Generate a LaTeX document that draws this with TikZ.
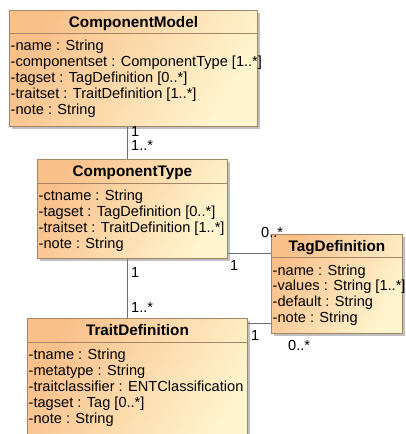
\documentclass[tikz,border=0pt]{standalone}
\usepackage{fontspec}
\setmainfont{Liberation Sans}
\usetikzlibrary{calc,shadows}
\definecolor{cborder}{RGB}{166,132,102}
\definecolor{ctop}{RGB}{249,192,138}
\definecolor{cbot}{RGB}{255,246,208}
\definecolor{cline}{RGB}{110,110,110}
\definecolor{cshadow}{RGB}{192,192,192}
\begin{document}
\begin{tikzpicture}[x=1pt,y=-1pt,
  classbox/.style={draw=cborder, line width=0.9pt, top color=ctop, bottom color=cbot, shading angle=60,
    anchor=north west, inner sep=0pt,
    drop shadow={shadow xshift=3pt, shadow yshift=-3pt, fill=cshadow, opacity=1}},
  title/.style={font=\fontsize{15.3}{17}\selectfont\bfseries, inner sep=0pt, anchor=base},
  attr/.style={font=\fontsize{14.6}{16}\selectfont, inner sep=0pt, anchor=base west},
  lbl/.style={font=\fontsize{14.6}{16}\selectfont, inner sep=0pt, anchor=base west},
  conn/.style={draw=cline, line width=0.9pt},
  sepline/.style={draw=cborder, line width=0.9pt}]
\useasboundingbox (0,0) rectangle (406,434);
\fill[white] (0,0) rectangle (406,434);
\clip (0,0) rectangle (406,434);
\coordinate (xa) at (127,0);

% ComponentModel
\node[classbox, minimum width=248pt, minimum height=116pt] (cm) at (9,10) {};
\node[title] (cmT) at ($(cm.north)+(0,17)$) {ComponentModel};
\draw[sepline] ($(cm.north west)+(0,23)$) -- ($(cm.north east)+(0,23)$);
\foreach \t [count=\i from 0] in {{-name : String},{-componentset : ComponentType [1..*]},{-tagset : TagDefinition [0..*]},{-traitset : TraitDefinition [1..*]},{-note : String}}
  \node[attr] (cma\i) at ($(cm.north west)+(1.5,23+17+16*\i)$) {\t};

% ComponentType
\node[classbox, minimum width=190pt, minimum height=99pt] (ct) at (37,159) {};
\node[title] (ctT) at ($(ct.north)+(0,17)$) {ComponentType};
\draw[sepline] ($(ct.north west)+(0,24)$) -- ($(ct.north east)+(0,24)$);
\foreach \t [count=\i from 0] in {{-ctname : String},{-tagset : TagDefinition [0..*]},{-traitset : TraitDefinition [1..*]},{-note : String}}
  \node[attr] (cta\i) at ($(ct.north west)+(1.5,24+17+16*\i)$) {\t};

% TagDefinition
\node[classbox, minimum width=131pt, minimum height=99pt] (tg) at (271,234) {};
\node[title] (tgT) at ($(tg.north)+(0,17)$) {TagDefinition};
\draw[sepline] ($(tg.north west)+(0,23)$) -- ($(tg.north east)+(0,23)$);
\foreach \t [count=\i from 0] in {{-name : String},{-values : String [1..*]},{-default : String},{-note : String}}
  \node[attr] (tga\i) at ($(tg.north west)+(1.5,23+18+15.7*\i)$) {\t};

% TraitDefinition
\node[classbox, minimum width=220pt, minimum height=140pt] (td) at (27,318) {};
\node[title] (tdT) at ($(td.north)+(0,17)$) {TraitDefinition};
\draw[sepline] ($(td.north west)+(0,24)$) -- ($(td.north east)+(0,24)$);
\foreach \t [count=\i from 0] in {{-tname : String},{-metatype : String},{-traitclassifier : ENTClassification},{-tagset : Tag [0..*]},{-note : String}}
  \node[attr] (tda\i) at ($(td.north west)+(1.5,24+17+16*\i)$) {\t};

% connectors
\draw[conn] (cm.south -| xa) -- (ct.north -| xa);
\draw[conn] (ct.south -| xa) -- (td.north -| xa);
\coordinate (ya) at (0,253);
\coordinate (yb) at (0,323);
\draw[conn] (ct.east |- ya) -- (tg.west |- ya);
\draw[conn] (td.east |- yb) -- (tg.west |- yb);

% multiplicities
\node[lbl] (m1) at (131,136) {1};
\node[lbl] (m2) at (131,150) {1..*};
\node[lbl] (m3) at (131,277) {1};
\node[lbl] (m4) at (131,312) {1..*};
\node[lbl] (m5) at (261,237) {0..*};
\node[lbl] (m6) at (230,270) {1};
\node[lbl] (m7) at (251,340) {1};
\node[lbl] (m8) at (288,350) {0..*};
\end{tikzpicture}
\end{document}
